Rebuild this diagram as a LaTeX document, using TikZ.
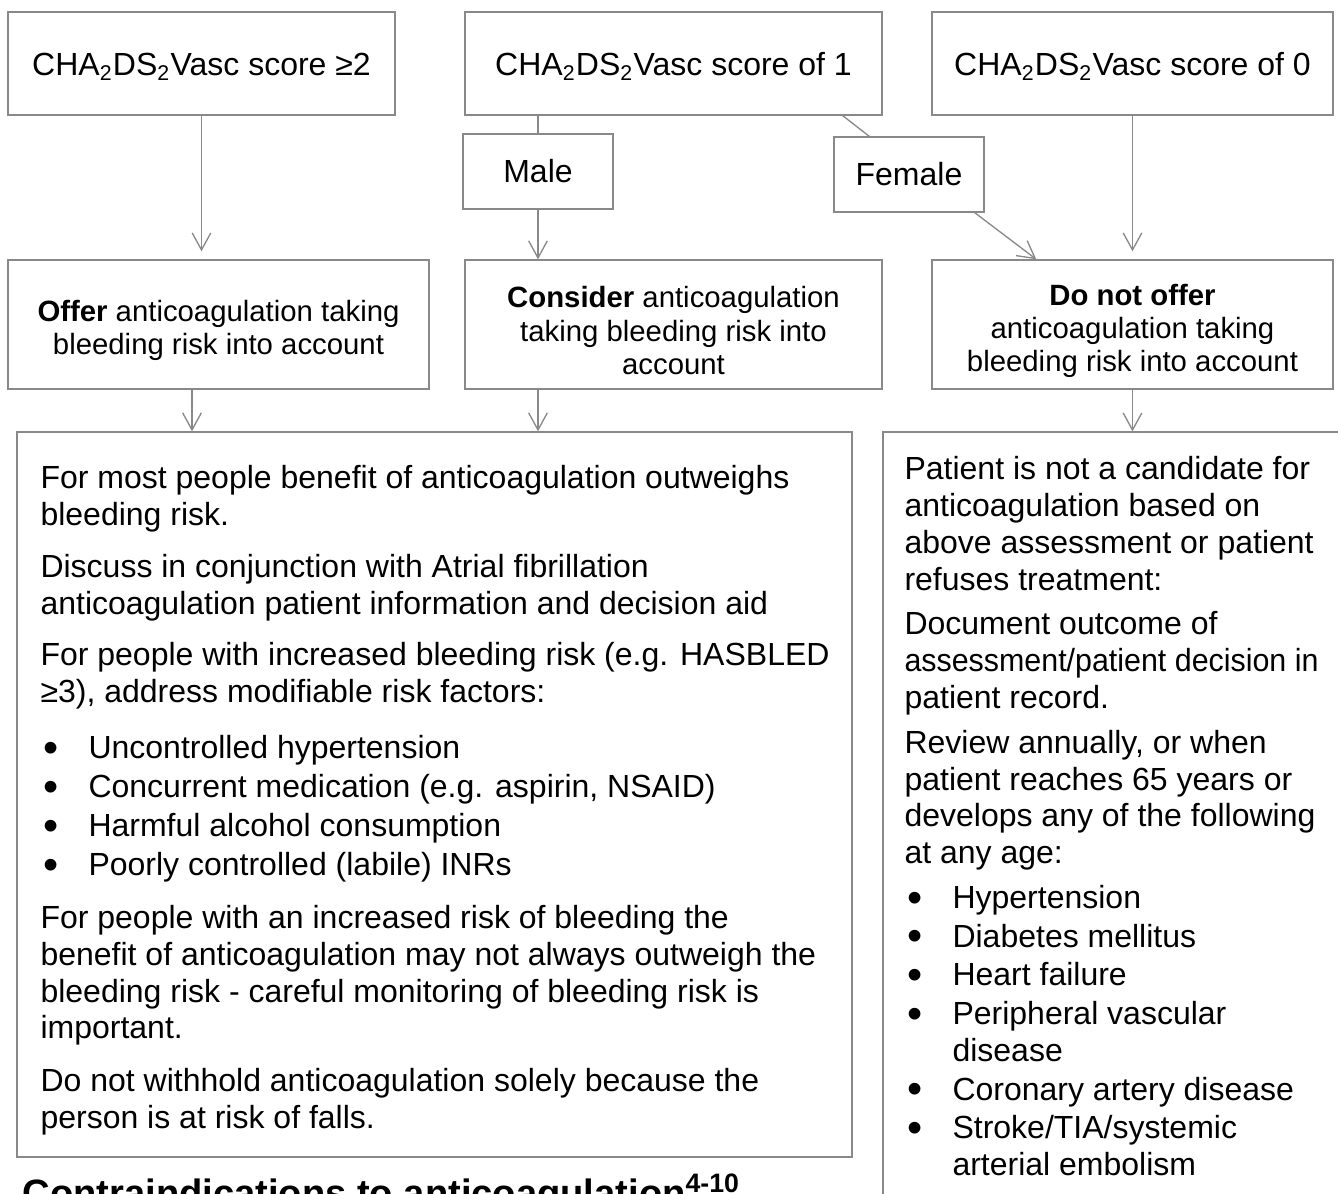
\documentclass[tikz,border=0pt]{standalone}
\usepackage{fontspec}
\setmainfont{Liberation Sans}
\usepackage{graphicx}
\usetikzlibrary{arrows.meta, calc}

\definecolor{boxgray}{RGB}{137,137,137}
\newcommand{\bul}{\makebox[18pt][l]{\hspace{1pt}\raisebox{-1.3pt}[0pt][0pt]{\scalebox{1.35}{\textbullet}}}}
\newcommand{\padtop}[1]{\rule{0pt}{#1}}

\begin{document}
\begin{tikzpicture}[x=0.375pt, y=-0.375pt,
    box/.style={draw=boxgray, line width=0.5pt, inner sep=0pt, align=center},
    bigtext/.style={font=\fontsize{12}{13.8}\selectfont},
    smalltext/.style={font=\fontsize{11}{12.4}\selectfont},
    para/.style={inner sep=0pt, align=left, anchor=north west, font=\fontsize{12}{13.8}\selectfont},
    link/.style={draw=boxgray, line width=0.5pt},
    arr/.style={link, -{Straight Barb[length=6.4pt, width=7pt]}}]
    \useasboundingbox (0,0) rectangle (1338,1194);
    \clip (0,0) rectangle (1338,1194);

    % scores
    \node[box, bigtext, minimum width=145.1pt, minimum height=38.6pt] (score2) at (201.5,63.5) {\padtop{11pt}CHA\textsubscript{2}DS\textsubscript{2}Vasc score ≥2};
    \node[box, bigtext, minimum width=156.4pt, minimum height=38.6pt] (score1) at (673.5,63.5) {\padtop{11pt}CHA\textsubscript{2}DS\textsubscript{2}Vasc score of 1};
    \node[box, bigtext, minimum width=150.4pt, minimum height=38.6pt] (score0) at (1132.5,63.5) {\padtop{11pt}CHA\textsubscript{2}DS\textsubscript{2}Vasc score of 0};

    % sex
    \node[box, bigtext, minimum width=56.25pt, minimum height=28.1pt] (male) at (538,171.5) {Male};
    \node[box, bigtext, minimum width=56.25pt, minimum height=28.1pt] (female) at (909,174.5) {Female};

    % decisions
    \node[box, smalltext, minimum width=157.9pt, minimum height=48.4pt] (offer) at (218.5,324.5) {\padtop{12.5pt}\textbf{Offer} anticoagulation taking\\bleeding risk into account};
    \node[box, smalltext, minimum width=156.4pt, minimum height=48.4pt] (consider) at (673.5,324.5) {\padtop{12.5pt}\textbf{Consider} anticoagulation\\taking bleeding risk into\\account};
    \node[box, smalltext, minimum width=150.4pt, minimum height=48.4pt] (donot) at (1132.5,324.5) {\padtop{13pt}\textbf{Do not offer}\\anticoagulation taking\\bleeding risk into account};

    % outcome boxes
    \node[box, minimum width=313.1pt, minimum height=271.9pt] (adviceBox) at (434.5,794.5) {};
    \node[box, minimum width=175.1pt, minimum height=293.6pt] (reviewBox) at (1116.5,823.5) {};

    \node[para] (advice) at (40,465) {For most people benefit of anticoagulation outweighs\\
        bleeding risk.\\[5.6pt]
        Discuss in conjunction with Atrial fibrillation\\
        anticoagulation patient information and decision aid\\[5.6pt]
        For people with increased bleeding risk (e.g. HASBLED\\
        ≥3), address modifiable risk factors:\\[7.3pt]
        \bul Uncontrolled hypertension\\[0.8pt]
        \bul Concurrent medication (e.g. aspirin, NSAID)\\[0.8pt]
        \bul Harmful alcohol consumption\\[0.8pt]
        \bul Poorly controlled (labile) INRs\\[6pt]
        For people with an increased risk of bleeding the\\
        benefit of anticoagulation may not always outweigh the\\
        bleeding risk - careful monitoring of bleeding risk is\\
        important.\\[6pt]
        Do not withhold anticoagulation solely because the\\
        person is at risk of falls.};

    \node[para] (review) at (904,456) {Patient is not a candidate for\\
        anticoagulation based on\\
        above assessment or patient\\
        refuses treatment:\\[3pt]
        Document outcome of\\
        \scalebox{0.95}[1]{assessment/patient decision in}\\
        patient record.\\[3pt]
        Review annually, or when\\
        patient reaches 65 years or\\
        develops any of the following\\
        at any age:\\[3pt]
        \bul Hypertension\\[0.7pt]
        \bul Diabetes mellitus\\[0.7pt]
        \bul Heart failure\\[0.7pt]
        \bul Peripheral vascular\\
        \hspace*{18pt}disease\\[0.7pt]
        \bul Coronary artery disease\\[0.7pt]
        \bul Stroke/TIA/systemic\\
        \hspace*{18pt}arterial embolism};

    \node[anchor=base west, inner sep=0pt, font=\bfseries\fontsize{14.3}{16}\selectfont] (contra) at (22,1206) {Contraindications to anticoagulation\textsuperscript{4-10}};

    % connectors
    \coordinate (drop) at (192,0);
    \draw[arr, shorten >=3pt] (score2.south) -- (score2.south |- offer.north);
    \draw[link] (male.north |- score1.south) -- (male.north);
    \draw[arr] (male.south) -- (male.south |- consider.north);
    \draw[link] ($(score1.south east)+(-40,0)$) -- ($(female.north west)+(36,0)$);
    \draw[arr] ($(female.south east)+(-10,0)$) -- ($(donot.north west)+(105,0)$);
    \draw[arr, shorten >=3pt] (score0.south) -- (score0.south |- donot.north);
    \draw[arr] (drop |- offer.south) -- (drop |- adviceBox.north);
    \draw[arr] (male.south |- consider.south) -- (male.south |- adviceBox.north);
    \draw[arr] (donot.south) -- (donot.south |- reviewBox.north);
\end{tikzpicture}
\end{document}
